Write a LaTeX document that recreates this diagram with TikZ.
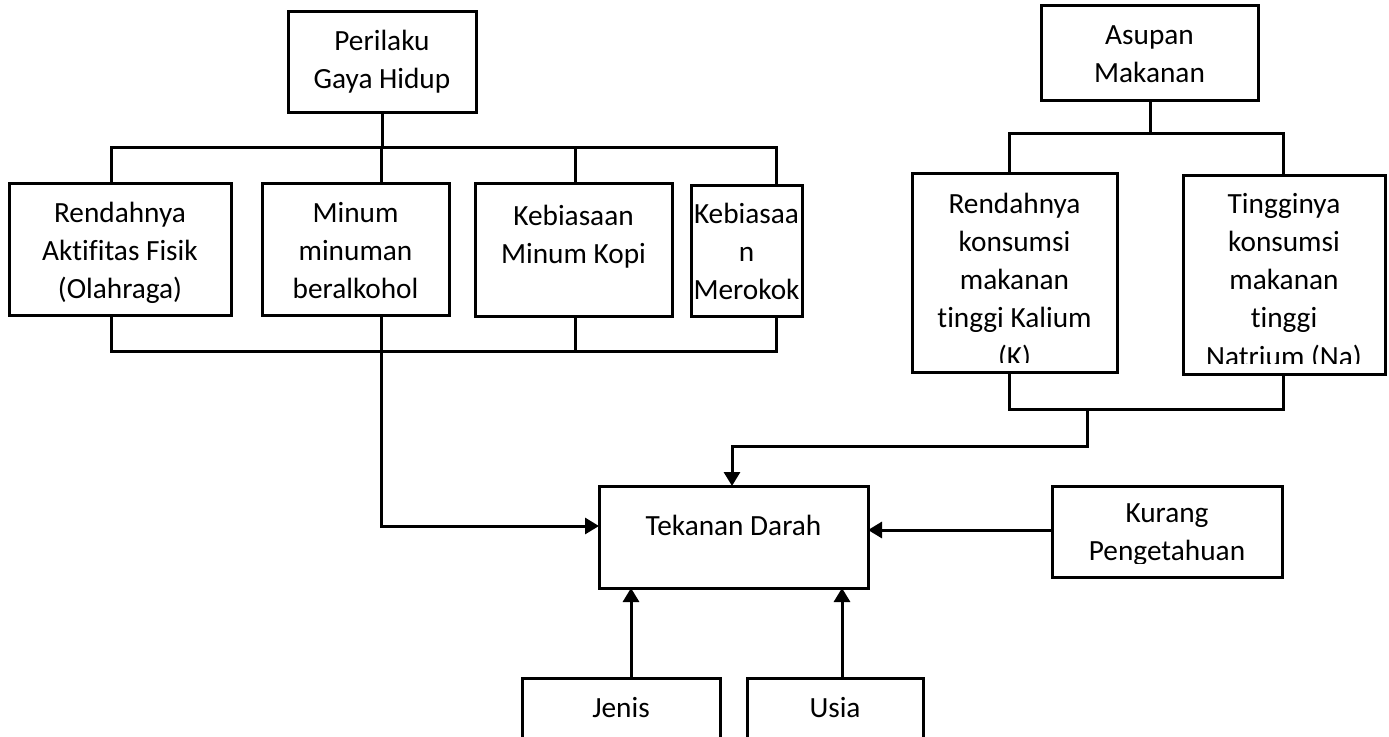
\documentclass[tikz,border=0pt]{standalone}
\usepackage{fontspec}
\setmainfont{Carlito}[Ligatures=NoCommon]
\usetikzlibrary{arrows.meta}
\tikzset{
  box/.style={draw=black, line width=3pt, rectangle, inner sep=0pt, outer sep=0pt},
  txt/.style={inner sep=0pt, outer sep=0pt, anchor=base, font=\fontsize{29.3}{38.3}\selectfont},
  ln/.style={line width=3pt, line cap=butt, line join=miter},
  arr/.style={ln, -{Triangle[length=14pt,width=16pt]}}
}
\newcommand\bx[5]{\node[box, minimum width=#4pt-#2pt, minimum height=#5pt-#3pt] (#1) at ({(#2+#4)/2},{(#3+#5)/2}) {};}
\newcommand\lines[1]{\begin{tabular}[t]{@{}c@{}}#1\end{tabular}}
\begin{document}
\begin{tikzpicture}[x=1pt,y=-1pt]
\useasboundingbox[fill=white] (0,0) rectangle (1389,736);
% boxes
\bx{per}{288}{11}{476}{112}
\bx{b1}{9}{183}{231}{315}
\bx{b2}{262}{183}{449}{315}
\bx{b3}{475}{183}{672}{316}
\bx{b4}{691}{185}{802}{316}
\bx{asu}{1041}{5}{1258}{100}
\bx{kal}{912}{173}{1117}{372}
\bx{nat}{1183}{175}{1385}{374}
\bx{tek}{599}{486}{868}{588}
\bx{kur}{1052}{486}{1282}{577}
\bx{jen}{522}{678}{720}{770}
\bx{usi}{747}{678}{923}{770}
% texts
\node[txt] (per-t) at (382,50) {\lines{Perilaku\\Gaya Hidup}};
\node[txt] (b1-t) at (120,222) {\lines{Rendahnya\\Aktifitas Fisik\\(Olahraga)}};
\node[txt] (b2-t) at (355.5,222) {\lines{Minum\\minuman\\beralkohol}};
\node[txt] (b3-t) at (573.5,225) {\lines{Kebiasaan\\Minum Kopi}};
\node[txt] (b4-t) at (746.5,223) {\lines{Kebiasaa\\n\\Merokok}};
\node[txt] (asu-t) at (1149.5,44) {\lines{Asupan\\Makanan}};
\begin{scope}
\clip (912,176) rectangle (1117,362);
\node[txt] (kal-t) at (1014.5,213) {\lines{Rendahnya\\konsumsi\\makanan\\tinggi Kalium\\(K)}};
\end{scope}
\begin{scope}
\clip (1183,178) rectangle (1385,363);
\node[txt] (nat-t) at (1284,213) {\lines{Tingginya\\konsumsi\\makanan\\tinggi\\Natrium (Na)}};
\end{scope}
\node[txt] (tek-t) at (733.5,535) {Tekanan Darah};
\begin{scope}
\clip (1052,489) rectangle (1282,563);
\node[txt] (kur-t) at (1167,522) {\lines{Kurang\\Pengetahuan}};
\end{scope}
\node[txt] (jen-t) at (621,717) {Jenis};
\node[txt] (usi-t) at (835,717) {Usia};
% left tree
\coordinate (tl) at (111,147);
\coordinate (tm) at (575,147);
\coordinate (tr) at (776,147);
\coordinate (bl) at (111,351);
\coordinate (bm) at (575,351);
\coordinate (br) at (776,351);
\coordinate (down) at (381,526);
\draw[ln] (per.south) -- (per.south |- tl);
\draw[ln] (b1.north -| tl) -- (tl) -- (tr) -- (b4.north -| tr);
\draw[ln] (tm) -- (b3.north -| tm);
\draw[ln] (b2.north -| down) -- (down |- tl);
\draw[ln] (b1.south -| bl) -- (bl) -- (br) -- (b4.south -| br);
\draw[ln] (bm) -- (b3.south -| bm);
\draw[arr] (b2.south -| down) -- (down) -- (down -| tek.west);
% right tree
\coordinate (rtl) at (1009,133);
\coordinate (rtr) at (1283,133);
\coordinate (rbl) at (1009,409);
\coordinate (rbr) at (1283,409);
\coordinate (rbm) at (1087,409);
\coordinate (rturn) at (1087,446);
\coordinate (tin) at (732,446);
\draw[ln] (asu.south -| 1150,0) -- (1150,133);
\draw[ln] (kal.north -| rtl) -- (rtl) -- (rtr) -- (nat.north -| rtr);
\draw[ln] (kal.south -| rbl) -- (rbl) -- (rbr) -- (nat.south -| rbr);
\draw[arr] (rbm) -- (rturn) -- (tin) -- (tin |- tek.north);
% other arrows
\coordinate (kin) at (1052,530);
\draw[arr] (kur.west |- kin) -- (kin -| tek.east);
\draw[arr] (jen.north -| 631,0) -- (631,588);
\draw[arr] (usi.north -| 842,0) -- (842,588);
\end{tikzpicture}
\end{document}
